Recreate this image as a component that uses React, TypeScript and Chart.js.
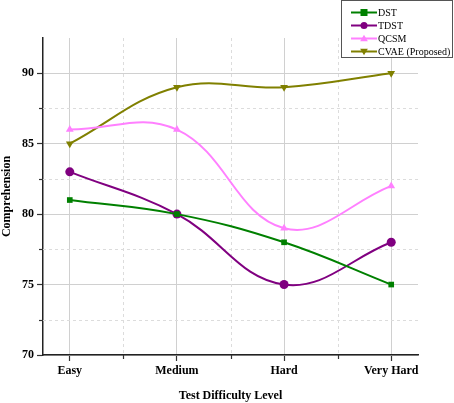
import React, { useEffect, useRef } from "react";
import { Chart, registerables } from "chart.js";

Chart.register(...registerables);

const categories = ["Easy", "Medium", "Hard", "Very Hard"];
const dst = [81, 80, 78, 75];
const tdst = [83, 80, 75, 78];
const qcsm = [86, 86, 79, 82];
const cvae = [85, 89, 89, 90];
const yTicks = [70, 75, 80, 85, 90];
const seriesNames = ["DST", "TDST", "QCSM", "CVAE (Proposed)"];
const seriesColors = ["#008000", "#800080", "#FF80FF", "#808000"];

const FONT = "'Liberation Serif', 'Times New Roman', serif";

function drawMarker(ctx: CanvasRenderingContext2D, style: string, x: number, y: number, r: number, color: string) {
  ctx.save();
  ctx.fillStyle = color;
  ctx.beginPath();
  if (style === "rect") {
    ctx.rect(x - r, y - r, 2 * r, 2 * r);
  } else if (style === "circle") {
    ctx.arc(x, y, r, 0, Math.PI * 2);
  } else if (style === "triangle") {
    ctx.moveTo(x, y - r * 1.1);
    ctx.lineTo(x + r * 1.1, y + r * 0.8);
    ctx.lineTo(x - r * 1.1, y + r * 0.8);
    ctx.closePath();
  } else {
    ctx.moveTo(x, y + r * 1.1);
    ctx.lineTo(x + r * 1.1, y - r * 0.8);
    ctx.lineTo(x - r * 1.1, y - r * 0.8);
    ctx.closePath();
  }
  ctx.fill();
  ctx.restore();
}

const markerStyles = ["rect", "circle", "triangle", "down"];

const minorGridPlugin = {
  id: "minorGrid",
  beforeDatasetsDraw(chart: any) {
    const { ctx, chartArea, scales } = chart;
    const xs = scales.x;
    const ys = scales.y;
    ctx.save();
    ctx.strokeStyle = "#dcdcdc";
    ctx.lineWidth = 1;
    ctx.setLineDash([3, 3]);
    [0.5, 1.5, 2.5].forEach((v) => {
      const px = Math.round(xs.getPixelForValue(v)) + 0.5;
      ctx.beginPath();
      ctx.moveTo(px, chartArea.top);
      ctx.lineTo(px, chartArea.bottom);
      ctx.stroke();
    });
    [72.5, 77.5, 82.5, 87.5].forEach((v) => {
      const py = Math.round(ys.getPixelForValue(v)) + 0.5;
      ctx.beginPath();
      ctx.moveTo(chartArea.left, py);
      ctx.lineTo(chartArea.right, py);
      ctx.stroke();
    });
    ctx.setLineDash([]);
    ctx.strokeStyle = "#333";
    ctx.lineWidth = 1.2;
    [0.5, 1.5, 2.5].forEach((v) => {
      const px = Math.round(xs.getPixelForValue(v)) + 0.5;
      ctx.beginPath();
      ctx.moveTo(px, chartArea.bottom);
      ctx.lineTo(px, chartArea.bottom + 4);
      ctx.stroke();
    });
    [72.5, 77.5, 82.5, 87.5].forEach((v) => {
      const py = Math.round(ys.getPixelForValue(v)) + 0.5;
      ctx.beginPath();
      ctx.moveTo(chartArea.left, py);
      ctx.lineTo(chartArea.left - 4, py);
      ctx.stroke();
    });
    ctx.restore();
  },
};

const legendPlugin = {
  id: "customLegend",
  afterDraw(chart: any) {
    const { ctx } = chart;
    ctx.save();
    const bx = 341.5, by = 0.5, bw = 111, bh = 57;
    ctx.fillStyle = "#ffffff";
    ctx.fillRect(bx, by, bw, bh);
    ctx.strokeStyle = "#555";
    ctx.lineWidth = 1;
    ctx.strokeRect(bx, by, bw, bh);
    ctx.font = `10px ${FONT}`;
    ctx.textBaseline = "middle";
    ctx.textAlign = "left";
    seriesNames.forEach((name, i) => {
      const y = 12.5 + i * 13;
      ctx.strokeStyle = seriesColors[i];
      ctx.lineWidth = 2;
      ctx.beginPath();
      ctx.moveTo(351, y);
      ctx.lineTo(377, y);
      ctx.stroke();
      drawMarker(ctx, markerStyles[i], 364, y, 3.5, seriesColors[i]);
      ctx.fillStyle = "#000";
      ctx.fillText(name, 378, y + 0.5);
    });
    ctx.restore();
  },
};

export default function App() {
  const ref = useRef<HTMLCanvasElement | null>(null);
  useEffect(() => {
    document.body.style.margin = "0";
    const series = [dst, tdst, qcsm, cvae];
    const datasets = series.map((vals, i) => ({
      label: seriesNames[i],
      data: vals.map((v, j) => ({ x: j, y: v })),
      borderColor: seriesColors[i],
      backgroundColor: seriesColors[i],
      borderWidth: 2,
      tension: 0.4,
      cubicInterpolationMode: "default" as const,
      pointStyle: markerStyles[i] === "down" ? "triangle" : markerStyles[i],
      rotation: markerStyles[i] === "down" ? 180 : 0,
      pointRadius: markerStyles[i] === "rect" ? 4 : 4.5,
      pointBorderWidth: 0,
      pointBackgroundColor: seriesColors[i],
      pointBorderColor: seriesColors[i],
    }));
    const chart = new Chart(ref.current as HTMLCanvasElement, {
      type: "line",
      data: { datasets: datasets as any },
      plugins: [minorGridPlugin, legendPlugin],
      options: {
        animation: false,
        responsive: false,
        maintainAspectRatio: false,
        layout: { padding: { top: 38, right: 36, left: 0, bottom: 0 } },
        plugins: {
          legend: { display: false },
          tooltip: { enabled: false },
        },
        scales: {
          x: {
            type: "linear",
            min: -0.25,
            max: 3.25,
            afterBuildTicks: (s: any) => {
              s.ticks = categories.map((_, i) => ({ value: i }));
            },
            afterFit: (s: any) => {
              s.height = 48;
            },
            ticks: {
              callback: (v: any) => categories[Math.round(Number(v))] ?? "",
              color: "#000",
              font: { family: FONT, size: 12, weight: "bold" },
              padding: 3,
              maxRotation: 0,
              autoSkip: false,
            },
            grid: {
              color: "#d0d0d0",
              lineWidth: 1,
              tickColor: "#333",
              tickLength: 6,
              tickWidth: 1.2,
            },
            border: { color: "#222", width: 1.5 },
            title: {
              display: true,
              text: "Test Difficulty Level",
              color: "#000",
              font: { family: FONT, size: 12, weight: "bold" },
              padding: { top: 8, bottom: 0 },
            },
          },
          y: {
            type: "linear",
            min: 70,
            max: 92.5,
            afterBuildTicks: (s: any) => {
              s.ticks = yTicks.map((v) => ({ value: v }));
            },
            afterFit: (s: any) => {
              s.width = 43;
            },
            ticks: {
              color: "#000",
              font: { family: FONT, size: 12, weight: "bold" },
              padding: 3,
            },
            grid: {
              color: "#d0d0d0",
              lineWidth: 1,
              tickColor: "#333",
              tickLength: 6,
              tickWidth: 1.2,
            },
            border: { color: "#222", width: 1.5 },
            title: {
              display: true,
              text: "Comprehension",
              color: "#000",
              font: { family: FONT, size: 12, weight: "bold" },
              padding: { top: 0, bottom: 2 },
            },
          },
        },
      },
    });
    return () => chart.destroy();
  }, []);
  return (
    <div style={{ position: "fixed", left: 0, top: 0, width: 454, height: 403, background: "#fff" }}>
      <canvas ref={ref} width={454} height={403} style={{ width: 454, height: 403 }} />
    </div>
  );
}
